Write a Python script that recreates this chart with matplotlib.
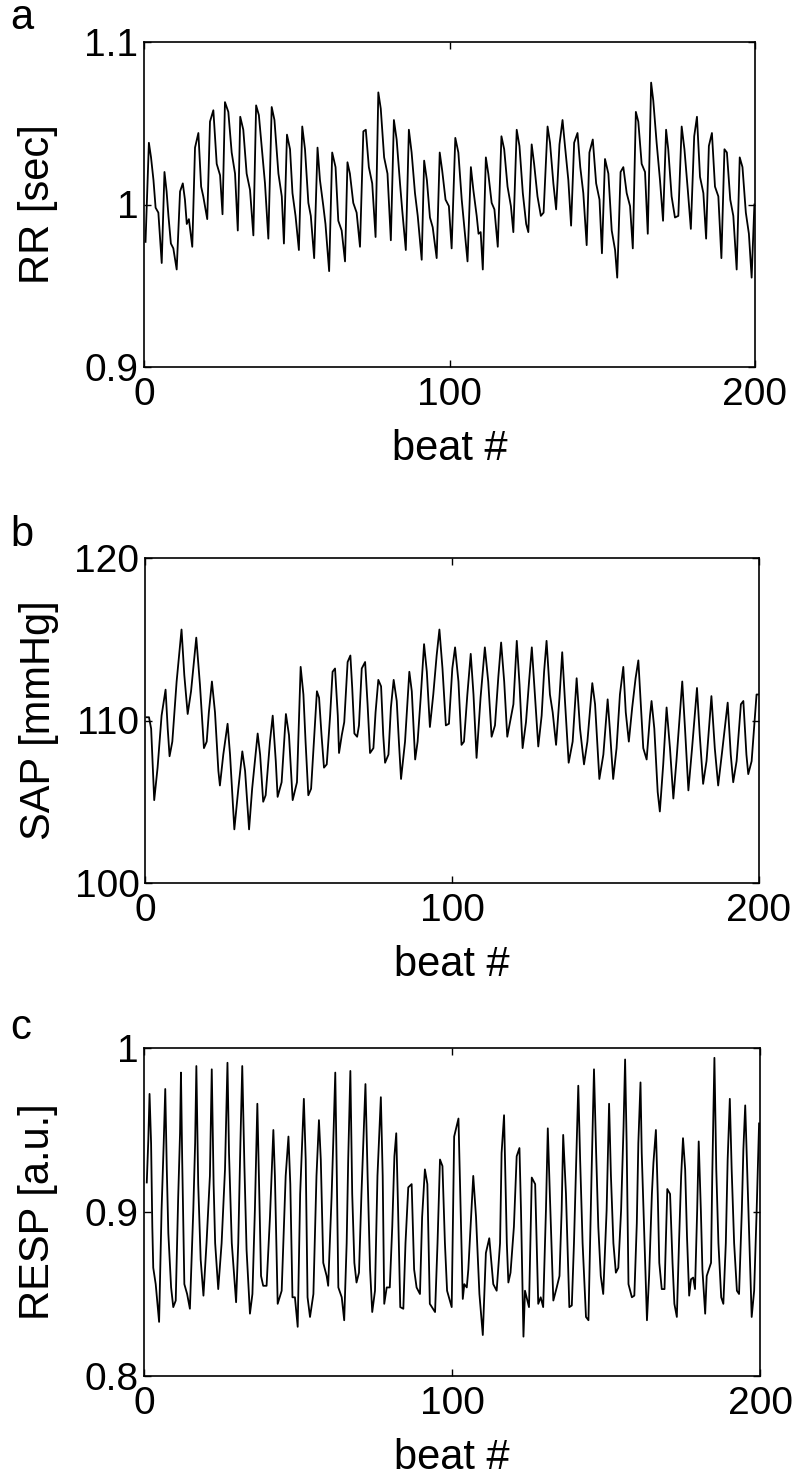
import matplotlib
matplotlib.use('Agg')
import matplotlib.pyplot as plt

plt.rcParams['font.family'] = ['Liberation Sans', 'DejaVu Sans']

# panel a: RR interval [sec]
rr_beat = [0.5, 1.6, 2.3, 3.1, 3.8, 4.7, 5.8, 6.7, 7.4, 8.0, 8.8, 9.6, 10.7, 11.8, 12.7, 13.4, 14.0, 14.7,
           15.8, 16.7, 17.8, 18.7, 19.4, 20.7, 21.6, 22.7, 23.8, 24.9, 25.7, 26.5, 27.6, 28.7, 29.8, 30.7,
           31.5, 32.5, 33.6, 34.7, 35.8, 36.7, 37.6, 38.5, 39.6, 40.7, 41.8, 42.7, 44.0, 45.1, 45.8, 46.8,
           47.8, 48.6, 49.6, 50.7, 51.8, 52.7, 53.8, 54.6, 55.7, 56.8, 57.6, 58.7, 59.4, 60.6, 61.6, 62.7,
           63.6, 64.7, 65.8, 66.6, 67.4, 68.5, 69.6, 70.7, 71.8, 72.6, 73.6, 74.7, 75.8, 76.7, 77.5, 78.6,
           79.7, 80.8, 81.8, 82.7, 83.8, 84.5, 85.7, 86.7, 87.6, 88.7, 89.6, 90.9, 91.7, 92.6, 93.6, 94.5,
           95.8, 96.8, 97.6, 98.7, 99.8, 100.7, 101.9, 102.9, 104.0, 104.8, 105.9, 107.0, 107.8, 108.9,
           109.5, 110.2, 110.9, 111.9, 112.7, 113.8, 114.7, 115.8, 117.0, 117.9, 119.0, 120.1, 120.9,
           122.0, 122.9, 124.0, 125.1, 125.8, 126.9, 127.7, 128.8, 129.9, 130.8, 132.1, 132.9, 134.0,
           134.9, 136.0, 137.0, 137.8, 138.9, 139.8, 140.8, 141.9, 142.8, 143.8, 144.9, 145.8, 146.9,
           148.0, 149.1, 149.9, 150.9, 152.0, 153.1, 154.2, 154.9, 156.0, 156.9, 158.0, 159.1, 160.0,
           161.0, 161.8, 162.9, 164.0, 164.9, 166.0, 166.7, 167.8, 168.9, 169.9, 170.9, 171.6, 172.7,
           173.8, 174.9, 176.0, 176.9, 178.0, 179.0, 180.1, 181.0, 182.0, 183.1, 184.0, 184.9, 185.9,
           186.9, 188.0, 189.0, 190.0, 190.8, 191.9, 192.9, 194.0, 195.0, 195.9, 197.0, 198.0, 198.9, 199.8]
rr_val = [0.977, 1.038, 1.029, 1.015, 0.998, 0.995, 0.964, 1.020, 1.008, 0.993, 0.976, 0.973, 0.960, 1.008,
          1.013, 1.003, 0.988, 0.991, 0.974, 1.035, 1.044, 1.011, 1.005, 0.991, 1.051, 1.058, 1.025, 1.018,
          0.994, 1.063, 1.057, 1.032, 1.019, 0.984, 1.054, 1.046, 1.019, 1.009, 0.981, 1.061, 1.055, 1.036,
          1.013, 0.979, 1.060, 1.052, 1.019, 1.005, 0.976, 1.043, 1.034, 1.007, 0.993, 0.972, 1.048, 1.034,
          1.001, 0.993, 0.967, 1.035, 1.015, 0.999, 0.988, 0.959, 1.032, 1.023, 0.990, 0.984, 0.965, 1.026,
          1.019, 1.001, 0.995, 0.974, 1.045, 1.046, 1.023, 1.013, 0.980, 1.069, 1.059, 1.029, 1.019, 0.978,
          1.052, 1.040, 1.013, 0.997, 0.972, 1.046, 1.032, 1.007, 0.993, 0.966, 1.027, 1.015, 0.992, 0.986,
          0.967, 1.032, 1.021, 1.003, 0.999, 0.973, 1.041, 1.032, 1.003, 0.987, 0.965, 1.023, 1.009, 0.993,
          0.982, 0.983, 0.960, 1.029, 1.019, 1.001, 0.997, 0.974, 1.042, 1.034, 1.011, 0.999, 0.983, 1.046,
          1.036, 1.007, 0.988, 0.983, 1.037, 1.025, 1.005, 0.993, 0.995, 1.048, 1.038, 1.013, 0.997, 1.037,
          1.052, 1.036, 1.015, 0.987, 1.038, 1.044, 1.023, 1.007, 0.975, 1.032, 1.040, 1.013, 1.003, 0.970,
          1.028, 1.019, 0.984, 0.972, 0.955, 1.020, 1.023, 1.007, 0.999, 0.973, 1.057, 1.051, 1.025, 1.020,
          0.982, 1.075, 1.064, 1.038, 1.015, 0.990, 1.046, 1.034, 1.005, 0.992, 0.993, 1.048, 1.034, 1.009,
          0.985, 1.042, 1.054, 1.017, 1.007, 0.979, 1.036, 1.044, 1.011, 1.005, 0.967, 1.034, 1.032, 1.003,
          0.993, 0.960, 1.029, 1.023, 0.995, 0.982, 0.955, 1.000]

# panel b: systolic arterial pressure [mmHg]
sap_beat = [0.5, 1.3, 2.0, 3.0, 4.1, 5.4, 6.7, 7.4, 8.0, 8.9, 10.3, 11.9, 12.8, 13.9, 15.0, 16.7, 17.9, 19.2,
            20.1, 20.8, 21.8, 22.8, 23.9, 24.4, 25.5, 26.9, 27.7, 29.1, 30.4, 31.7, 32.6, 33.9, 34.9, 36.7,
            37.5, 38.5, 39.3, 40.7, 41.6, 42.6, 43.2, 44.5, 45.9, 46.9, 48.1, 49.5, 50.7, 51.6, 52.3, 53.2,
            54.1, 55.2, 56.0, 56.7, 57.5, 58.3, 59.2, 60.3, 61.1, 61.9, 62.8, 63.2, 64.1, 64.9, 66.0, 66.9,
            67.5, 68.2, 69.1, 69.7, 70.6, 71.7, 72.5, 73.3, 74.4, 75.1, 76.0, 76.9, 77.6, 78.2, 79.3, 80.1,
            81.0, 82.0, 82.7, 83.4, 84.7, 86.1, 86.9, 88.0, 88.8, 89.8, 90.9, 91.8, 92.8, 93.9, 95.0, 95.9,
            96.9, 98.0, 99.0, 100.1, 101.0, 102.1, 103.1, 103.9, 105.0, 106.1, 107.0, 108.0, 109.3, 110.7,
            111.8, 112.9, 114.0, 115.1, 116.0, 117.0, 118.0, 118.9, 120.0, 121.1, 122.0, 123.0, 124.1,
            125.1, 126.0, 127.0, 128.1, 129.2, 130.0, 130.8, 131.9, 132.8, 133.9, 135.0, 135.9, 136.8,
            138.0, 139.3, 140.6, 141.7, 143.0, 144.1, 145.7, 146.6, 148.0, 149.3, 150.7, 151.4, 152.5,
            153.6, 154.7, 155.8, 156.6, 157.6, 158.7, 159.8, 160.7, 161.5, 162.3, 163.4, 164.5, 165.0,
            165.9, 167.0, 167.7, 168.8, 169.9, 171.0, 172.1, 173.1, 174.2, 175.0, 175.9, 177.0, 178.2,
            179.8, 180.7, 181.8, 182.9, 184.5, 185.6, 186.7, 188.0, 189.8, 190.8, 191.6, 192.7, 194.1,
            194.9, 195.9, 196.5, 197.6, 199.2, 199.7]
sap_val = [110.2, 110.2, 109.5, 105.1, 107.1, 110.3, 111.9, 109.5, 107.8, 108.7, 112.4, 115.6, 112.8, 110.4,
           111.8, 115.1, 112.2, 108.3, 108.7, 110.5, 112.4, 110.5, 106.9, 106.0, 107.9, 109.8, 107.9, 103.3,
           105.8, 108.1, 106.9, 103.3, 105.8, 109.2, 107.9, 105.0, 105.4, 108.7, 110.3, 107.5, 105.3, 106.2,
           110.4, 109.1, 105.1, 106.2, 113.3, 111.6, 108.7, 105.4, 105.8, 109.3, 111.8, 111.4, 109.1, 107.1,
           107.3, 110.3, 113.0, 113.2, 110.3, 108.0, 109.1, 109.9, 113.6, 114.0, 112.0, 109.2, 109.0, 109.7,
           113.2, 113.6, 111.0, 108.0, 108.3, 110.5, 112.5, 112.1, 109.1, 107.4, 107.9, 110.8, 112.5, 111.2,
           108.7, 106.4, 108.7, 113.0, 111.8, 107.6, 108.7, 111.4, 114.7, 113.0, 109.6, 111.6, 114.0, 115.6,
           113.2, 109.7, 109.8, 113.2, 114.5, 112.4, 108.5, 108.7, 111.6, 114.1, 111.6, 107.7, 111.4, 114.5,
           112.4, 109.0, 109.7, 112.7, 114.8, 112.4, 109.0, 109.9, 111.0, 114.9, 112.2, 108.3, 109.9, 112.4,
           114.5, 111.6, 108.4, 110.3, 113.0, 114.9, 111.6, 110.5, 108.5, 111.4, 114.2, 111.2, 107.4, 108.7,
           112.6, 109.5, 107.3, 108.7, 112.3, 111.0, 106.4, 107.9, 111.3, 109.5, 106.4, 108.3, 111.6, 113.3,
           110.5, 108.7, 110.8, 112.6, 113.7, 111.0, 108.3, 107.6, 110.3, 111.2, 109.5, 105.6, 104.4, 107.3,
           110.8, 108.3, 105.2, 107.5, 110.3, 112.4, 109.5, 105.7, 108.3, 112.0, 109.1, 106.1, 107.5, 111.5,
           108.3, 106.0, 108.1, 111.1, 107.9, 106.2, 107.5, 111.0, 111.2, 107.9, 106.7, 107.5, 111.6, 111.6]

# panel c: respiration [a.u.]
resp_beat = [0.9, 1.4, 1.8, 2.3, 2.7, 3.0, 3.8, 4.9, 5.7, 6.4, 6.9, 7.4, 7.9, 8.8, 9.5, 10.3, 11.1, 11.7,
             12.0, 12.4, 13.1, 14.0, 14.9, 16.0, 16.6, 17.0, 17.6, 18.4, 19.3, 20.3, 21.4, 22.0, 22.6, 23.1,
             24.1, 25.2, 26.3, 27.1, 27.6, 28.5, 29.9, 30.6, 31.3, 31.9, 32.6, 33.3, 34.4, 35.2, 36.0, 36.8,
             37.3, 38.0, 38.7, 39.8, 40.9, 42.0, 42.5, 43.4, 44.7, 46.0, 46.9, 47.5, 48.2, 49.0, 49.9, 50.7,
             51.9, 52.5, 53.1, 53.9, 55.0, 56.0, 56.8, 57.4, 58.2, 59.3, 59.8, 60.9, 61.6, 62.1, 62.6, 63.1,
             64.2, 65.0, 65.8, 66.3, 67.0, 67.6, 68.3, 69.0, 69.8, 70.6, 71.2, 71.9, 72.6, 73.4, 74.1, 75.0,
             75.8, 76.9, 77.5, 78.0, 78.8, 79.8, 80.6, 81.3, 81.9, 82.5, 83.2, 84.2, 84.9, 85.8, 86.9, 87.7,
             88.5, 89.6, 90.3, 91.2, 92.0, 92.8, 94.5, 95.3, 96.1, 96.9, 97.7, 98.4, 99.9, 100.7, 102.1,
             102.8, 103.5, 104.0, 104.8, 105.3, 106.9, 107.8, 108.9, 110.0, 111.0, 112.1, 113.4, 114.5,
             115.6, 116.1, 116.9, 117.8, 118.3, 119.0, 120.1, 121.0, 121.9, 122.4, 123.2, 123.7, 124.5,
             125.0, 125.9, 127.0, 128.0, 128.8, 129.6, 130.5, 131.1, 131.8, 132.9, 134.0, 134.9, 135.6,
             136.1, 137.0, 138.1, 138.9, 139.6, 140.5, 141.0, 141.6, 142.4, 143.5, 144.3, 145.3, 146.1,
             146.8, 147.5, 148.3, 149.1, 150.2, 151.0, 151.6, 152.4, 153.2, 154.0, 154.9, 155.7, 156.2,
             156.7, 157.3, 158.4, 159.2, 160.0, 160.5, 161.2, 161.6, 162.5, 163.3, 164.0, 164.9, 165.4,
             166.2, 166.8, 167.3, 168.1, 169.0, 169.4, 169.9, 170.8, 171.6, 172.2, 173.0, 173.7, 174.4,
             175.0, 175.7, 176.3, 177.0, 177.6, 178.3, 178.9, 179.6, 180.1, 180.8, 181.3, 182.2, 182.7,
             184.1, 184.5, 185.2, 185.8, 186.5, 187.4, 188.1, 188.9, 189.5, 190.2, 190.8, 191.6, 192.5,
             193.2, 194.1, 194.6, 195.2, 195.9, 196.6, 197.3, 198.1, 198.9, 199.7]
resp_val = [0.918, 0.944, 0.972, 0.942, 0.891, 0.866, 0.856, 0.833, 0.901, 0.942, 0.975, 0.926, 0.887, 0.854,
            0.842, 0.846, 0.909, 0.948, 0.985, 0.932, 0.856, 0.850, 0.841, 0.901, 0.942, 0.989, 0.917, 0.871,
            0.849, 0.881, 0.922, 0.987, 0.917, 0.881, 0.853, 0.881, 0.926, 0.991, 0.936, 0.881, 0.845, 0.881,
            0.942, 0.989, 0.928, 0.877, 0.838, 0.850, 0.901, 0.966, 0.922, 0.861, 0.855, 0.855, 0.897, 0.950,
            0.922, 0.844, 0.852, 0.922, 0.946, 0.917, 0.848, 0.848, 0.830, 0.911, 0.969, 0.932, 0.848, 0.836,
            0.850, 0.922, 0.956, 0.932, 0.869, 0.861, 0.855, 0.909, 0.952, 0.985, 0.922, 0.854, 0.848, 0.834,
            0.881, 0.932, 0.986, 0.911, 0.869, 0.857, 0.863, 0.911, 0.942, 0.978, 0.922, 0.865, 0.839, 0.852,
            0.922, 0.970, 0.922, 0.844, 0.854, 0.854, 0.891, 0.934, 0.948, 0.901, 0.842, 0.841, 0.881, 0.915,
            0.917, 0.865, 0.854, 0.850, 0.897, 0.926, 0.917, 0.844, 0.839, 0.881, 0.932, 0.928, 0.881, 0.852,
            0.842, 0.946, 0.957, 0.901, 0.847, 0.856, 0.854, 0.865, 0.922, 0.897, 0.850, 0.825, 0.875, 0.884,
            0.856, 0.852, 0.881, 0.936, 0.959, 0.881, 0.857, 0.863, 0.891, 0.934, 0.939, 0.901, 0.824, 0.852,
            0.846, 0.842, 0.921, 0.917, 0.844, 0.848, 0.842, 0.901, 0.951, 0.909, 0.846, 0.854, 0.861, 0.901,
            0.947, 0.911, 0.842, 0.843, 0.881, 0.942, 0.977, 0.932, 0.881, 0.836, 0.834, 0.922, 0.987, 0.936,
            0.891, 0.861, 0.850, 0.901, 0.966, 0.922, 0.881, 0.863, 0.866, 0.901, 0.952, 0.993, 0.942, 0.856,
            0.848, 0.849, 0.893, 0.942, 0.979, 0.936, 0.881, 0.834, 0.861, 0.911, 0.930, 0.950, 0.911, 0.869,
            0.853, 0.853, 0.881, 0.914, 0.911, 0.869, 0.844, 0.836, 0.881, 0.922, 0.945, 0.926, 0.885, 0.849,
            0.859, 0.860, 0.853, 0.901, 0.943, 0.901, 0.865, 0.838, 0.861, 0.869, 0.922, 0.994, 0.926, 0.881,
            0.848, 0.844, 0.881, 0.932, 0.969, 0.926, 0.881, 0.852, 0.850, 0.901, 0.938, 0.965, 0.922, 0.881,
            0.836, 0.852, 0.900, 0.954]

x_ticks = [0, 100, 200]
x_ticklabels = ['0', '100', '200']
rr_ticks = [0.9, 1.0, 1.1]
rr_ticklabels = ['0.9', '1', '1.1']
sap_ticks = [100, 110, 120]
sap_ticklabels = ['100', '110', '120']
resp_ticks = [0.8, 0.9, 1.0]
resp_ticklabels = ['0.8', '0.9', '1']

W, H = 794, 1477
fig = plt.figure(figsize=(W / 100, H / 100), dpi=100)


def px_axes(left, right, top, bottom):
    return fig.add_axes([left / W, 1 - bottom / H, (right - left) / W, (bottom - top) / H])


panels = [
    (px_axes(144, 755, 42, 367), rr_beat, rr_val, rr_ticks, rr_ticklabels, 'RR [sec]', 'a', 18),
    (px_axes(145, 759, 558, 883), sap_beat, sap_val, sap_ticks, sap_ticklabels, 'SAP [mmHg]', 'b', 535),
    (px_axes(144, 760, 1048, 1376), resp_beat, resp_val, resp_ticks, resp_ticklabels, 'RESP [a.u.]', 'c', 1028),
]

fs = 28
for ax, xb, yv, yt, ytl, ylab, letter, ly in panels:
    ax.plot(xb, yv, color='black', lw=1.3)
    ax.set_xlim(0, 200)
    ax.set_ylim(yt[0], yt[-1])
    ax.set_xticks(x_ticks)
    ax.set_xticklabels(x_ticklabels)
    ax.set_yticks(yt)
    ax.set_yticklabels(ytl)
    ax.tick_params(direction='in', top=True, right=True, length=5, width=1, labelsize=fs)
    ax.tick_params(axis='y', pad=4)
    ax.tick_params(axis='x', pad=7)
    for s in ax.spines.values():
        s.set_linewidth(1.2)
    ax.set_xlabel('beat #', fontsize=30, labelpad=12)
    ax.set_ylabel(ylab, fontsize=30)
    ax.yaxis.set_label_coords(-0.14, 0.5)
    fig.text(10 / W, 1 - ly / H, letter, fontsize=30, va='center', ha='left')

fig.savefig('out.png', dpi=100)
